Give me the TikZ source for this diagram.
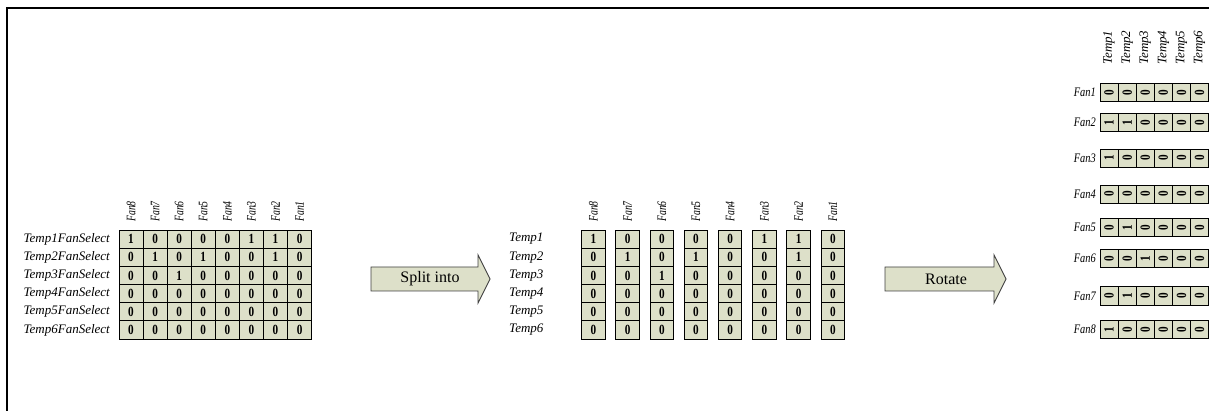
\documentclass[tikz,border=0pt]{standalone}
\usepackage{fontspec}
\setmainfont{Liberation Serif}
\definecolor{cellfill}{RGB}{221,224,201}
\begin{document}
\begin{tikzpicture}[x=1pt,y=-1pt,
 cell/.style={draw=black, fill=cellfill, line width=0.9pt, inner sep=0pt, font=\fontsize{14}{15}\selectfont\bfseries},
 lab/.style={font=\fontsize{13}{15}\selectfont\itshape, inner sep=0pt},
 fanlab/.style={font=\fontsize{13}{15}\selectfont\itshape, inner sep=0pt},
 bigarrow/.style={draw=black!75, fill=cellfill, line width=0.9pt},
 arrowtext/.style={font=\fontsize{16}{18}\selectfont, inner sep=0pt},
 frame/.style={line width=2pt}]
\useasboundingbox (0,0) rectangle (1209,411);
% frame
\coordinate (fb) at (7,413);
\coordinate (fc) at (7,8);
\coordinate (fr) at (1211,8);
\draw[frame] (fb) -- (fc) -- (fr);
% left and middle grids
\foreach \row [count=\r] in {{1,0,0,0,0,1,1,0},{0,1,0,1,0,0,1,0},{0,0,1,0,0,0,0,0},{0,0,0,0,0,0,0,0},{0,0,0,0,0,0,0,0},{0,0,0,0,0,0,0,0}} {
  \foreach \v [count=\c] in \row {
    \node[cell, minimum width=24.08pt, minimum height=18.17pt] (L-\r-\c) at ({119+24.08*(\c-0.5)},{230+18.17*(\r-0.5)}) {\scalebox{0.8}[1]{\v}};
    \node[cell, minimum width=23.4pt, minimum height=18.17pt] (M-\r-\c) at ({593.4+34.2*(\c-1)},{230+18.17*(\r-0.5)}) {\scalebox{0.8}[1]{\v}};
  }
  \node[lab, anchor=east] (LL-\r) at (110,{230+18.17*(\r-0.5)}) {Temp\r FanSelect};
  \node[lab, anchor=west] (ML-\r) at (509,{230+18.17*(\r-0.5)}) {Temp\r};
}
% headers of left and middle grids
\foreach \n [count=\c] in {8,7,6,5,4,3,2,1} {
  \node[fanlab, rotate=90, anchor=west] (LH-\c) at ({119+24.08*(\c-0.5)},222) {\scalebox{0.75}[1]{Fan\n}};
  \node[fanlab, rotate=90, anchor=west] (MH-\c) at ({593.4+34.2*(\c-1)},222) {\scalebox{0.75}[1]{Fan\n}};
}
% right table
\foreach \yc/\row [count=\r] in {92.5/{0,0,0,0,0,0},122.5/{1,1,0,0,0,0},158.2/{1,0,0,0,0,0},194.2/{0,0,0,0,0,0},227.5/{0,1,0,0,0,0},258.5/{0,0,1,0,0,0},295.9/{0,1,0,0,0,0},329.2/{1,0,0,0,0,0}} {
  \foreach \v [count=\c] in \row {
    \node[cell, rotate=90, minimum width=18.4pt, minimum height=18.1pt] (R-\r-\c) at ({1100+18.1*(\c-0.5)},\yc) {\scalebox{0.8}[1]{\v}};
  }
  \node[fanlab, anchor=east] (RL-\r) at (1096,\yc) {\scalebox{0.8}[1]{Fan\r}};
}
\foreach \c in {1,...,6} {
  \node[lab, rotate=90, anchor=west] (RH-\c) at ({1100+18.1*(\c-0.5)},65) {Temp\c};
}
% block arrows
\draw[bigarrow] (371,267) -- (478,267) -- (478,255) -- (490,279) -- (478,303) -- (478,291) -- (371,291) -- cycle;
\node[arrowtext] (split) at (430,279) {Split into};
\draw[bigarrow] (885,267) -- (994,267) -- (994,255) -- (1006,279) -- (994,303) -- (994,291) -- (885,291) -- cycle;
\node[arrowtext] (rotate) at (946,279) {Rotate};
\end{tikzpicture}
\end{document}
